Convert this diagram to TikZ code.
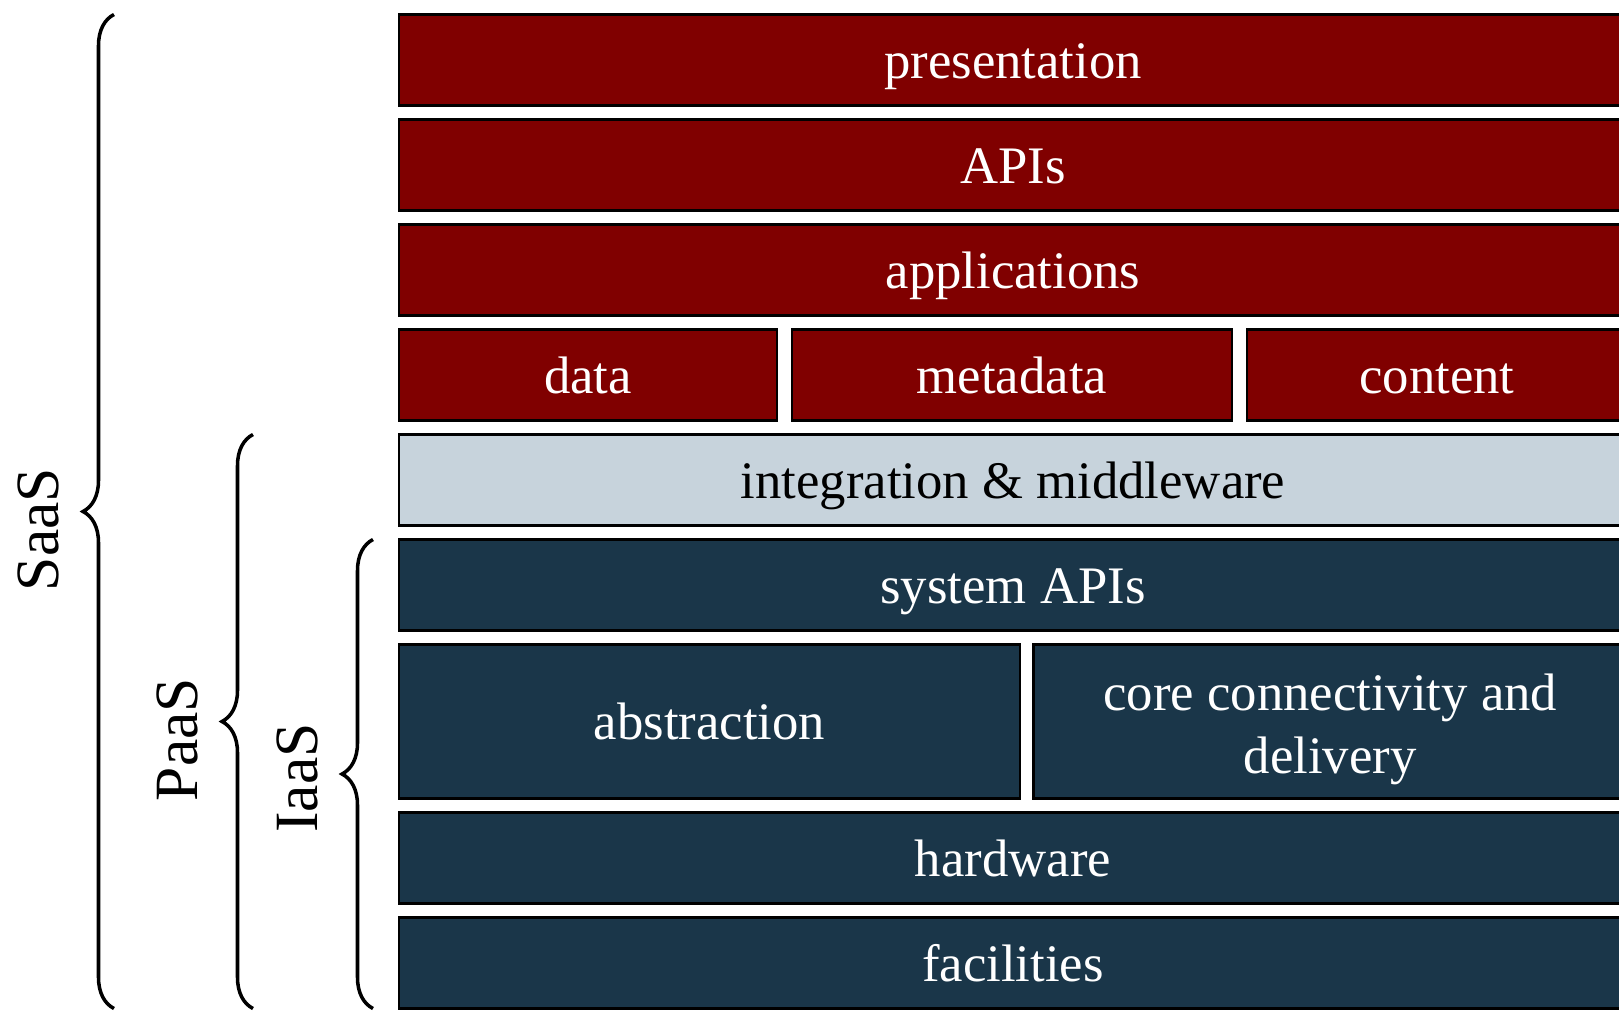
\documentclass[tikz,border=0pt]{standalone}
\usepackage{fontspec}
\setmainfont{Liberation Serif}
\usepackage{xcolor}
\usetikzlibrary{positioning,decorations.pathreplacing}
\definecolor{CLDred}{RGB}{128,0,0}
\definecolor{CLDnavy}{RGB}{26,54,73}
\definecolor{CLDmist}{RGB}{199,211,220}
\tikzstyle{layer} = [rectangle, draw=black, line width=0.6pt, outer sep=0pt,
                     inner sep=2pt, minimum height=0.91cm, align=center,
                     text height=10.3pt, text depth=0pt,
                     font=\fontsize{15}{18}\selectfont]
\tikzstyle{Lapp}  = [layer, fill=CLDred,  text=white]
\tikzstyle{Lmid}  = [layer, fill=CLDmist, text=black]
\tikzstyle{Linf}  = [layer, fill=CLDnavy, text=white]
\tikzstyle{Brace} = [decorate, decoration={brace, amplitude=0.31cm}, line width=1pt]
\tikzstyle{Btag}  = [rotate=90, font=\fontsize{17.5}{21}\selectfont]

\begin{document}
\begin{tikzpicture}
  \useasboundingbox (0,0) rectangle (16.19,-10.10);

  \node[Lapp, minimum width=12.28cm, anchor=north west] (pres) at (3.99,-0.145) {presentation};
  \node[Lapp, minimum width=12.28cm, below=0.14cm of pres] (apis) {APIs};
  \node[Lapp, minimum width=12.28cm, below=0.14cm of apis] (apps) {applications};
  \node[Lapp, minimum width=3.78cm, below right=0.14cm and 0cm of apps.south west] (data) {data};
  \node[Lapp, minimum width=4.40cm, right=0.15cm of data] (meta) {metadata};
  \node[Lapp, minimum width=3.80cm, right=0.15cm of meta] (cont) {content};
  \node[Lmid, minimum width=12.28cm, below right=0.14cm and 0cm of data.south west] (mid) {integration \& middleware};
  \node[Linf, minimum width=12.28cm, below=0.14cm of mid] (sys) {system APIs};
  \node[Linf, minimum width=6.21cm, minimum height=1.54cm,
        below right=0.14cm and 0cm of sys.south west] (abs) {abstraction};
  \node[Linf, minimum width=5.935cm, minimum height=1.54cm, right=0.135cm of abs,
        text height=29.5pt] (core)
       {core connectivity and\\delivery};
  \node[Linf, minimum width=12.28cm, below right=0.14cm and 0cm of abs.south west] (hw) {hardware};
  \node[Linf, minimum width=12.28cm, below=0.14cm of hw] (fac) {facilities};

  \draw[Brace] ([xshift=-2.85cm]fac.south west) -- ([xshift=-2.85cm]pres.north west)
    node[midway, xshift=-0.76cm, yshift=-0.18cm, Btag] (saas) {SaaS};
  \draw[Brace] ([xshift=-1.46cm]fac.south west) -- ([xshift=-1.46cm]mid.north west)
    node[midway, xshift=-0.76cm, yshift=-0.18cm, Btag] (paas) {PaaS};
  \draw[Brace] ([xshift=-0.26cm]fac.south west) -- ([xshift=-0.26cm]sys.north west)
    node[midway, xshift=-0.76cm, yshift=-0.04cm, Btag] (iaas) {IaaS};
\end{tikzpicture}
\end{document}
